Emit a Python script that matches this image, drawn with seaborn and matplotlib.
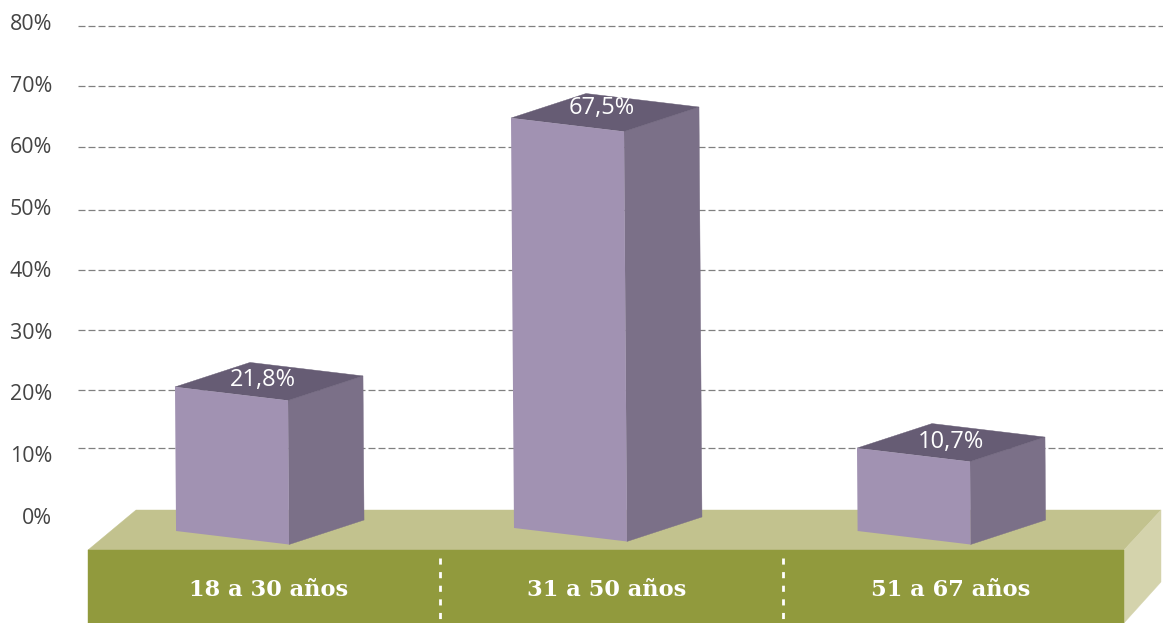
import numpy as np
import pandas as pd
import matplotlib
matplotlib.use("Agg")
import matplotlib.pyplot as plt
from matplotlib.patches import Polygon
from matplotlib.transforms import Affine2D
import seaborn as sns

# ---- data ----
categories = ["18 a 30 años", "31 a 50 años", "51 a 67 años"]
value_labels = ["21,8%", "67,5%", "10,7%"]
bar_tops = [20.9, 64.45, 11.0]        # drawn height of the front-left corner
bar_bases = [-2.43, -1.94, -2.43]     # drawn foot of the front-left corner
bar_centers = [231.5, 567.5, 913.5]
grid_levels = [79.4, 69.7, 59.75, 49.6, 39.85, 30.1, 20.4, 11.0]
tick_values = [0, 10, 20, 30, 40, 50, 60, 70, 80]
tick_labels = [f"{v}%" for v in tick_values]

# ---- layout (px) ----
W, H = 1163, 623
PX_PER_UNIT = 6.175
ZERO_PX = 516
def v(py):
    return (ZERO_PX - py) / PX_PER_UNIT

FRONT = "#A192B2"
SIDE = "#7B7088"
TOP = "#665C74"
PLAT_TOP = "#C2C28E"
PLAT_FRONT = "#919A3D"
PLAT_SIDE = "#D4D3AC"

sns.set_theme(style="white")
plt.rcParams["font.family"] = ["Open Sans", "DejaVu Sans"]

fig = plt.figure(figsize=(W / 100, H / 100), dpi=100, facecolor="white")
ax = fig.add_axes([78 / W, 0, 1 - 78 / W, 1])

df = pd.DataFrame({"pos": bar_centers, "top": bar_tops})
sns.barplot(data=df, x="pos", y="top", native_scale=True, width=113 / 336,
            color=FRONT, saturation=1, ax=ax, zorder=4, errorbar=None)

ax.set_xlim(78, W)
ax.set_ylim(v(H), v(0))
for s in ax.spines.values():
    s.set_visible(False)
ax.set_xlabel("")
ax.set_ylabel("")
ax.set_xticks([])
ax.set_yticks(tick_values)
ax.set_yticklabels(tick_labels)
ax.tick_params(axis="y", length=0, pad=18.7, labelsize=15.4, labelcolor="#444444")
ax.grid(False)
ax.patch.set_alpha(0)

# gridlines
for g in grid_levels:
    ax.axhline(g, color="#808080", lw=0.9, ls=(0, (5.6, 2.4)), zorder=1)

# platform
def poly(pts, color, z):
    ax.add_patch(Polygon([(x, v(y)) for x, y in pts], closed=True, facecolor=color,
                         edgecolor=color, lw=0.3, zorder=z, clip_on=True))

poly([(88, 550), (136, 510), (1161, 510), (1124, 550)], PLAT_TOP, 2)
poly([(1124, 550), (1161, 510), (1161, 582), (1124, 623)], PLAT_SIDE, 2)
poly([(88, 550), (1124, 550), (1124, 623), (88, 623)], PLAT_FRONT, 2)

# separators
for x in (440, 783):
    ax.plot([x, x], [v(558), v(620)], color="white", lw=2.0, ls=(0, (2.2, 2.7)), zorder=3)

# category labels
for x, lab in zip((269, 607, 951), categories):
    ax.text(x, v(590), lab, ha="center", va="center", color="white", fontsize=16.2,
            fontweight="bold", family=["DejaVu Serif"], zorder=6)

# 3D bars: shear seaborn's rectangles and add side/top faces
K = (13.5 / PX_PER_UNIT) / 113
S = 0.045
DX, DY = 75, 24.5 / PX_PER_UNIT
bars = list(ax.patches)[:3]
label_px = [(263, 380), (602, 108), (951, 442)]
for patch, top, base, lab, (lx, ly) in zip(bars, bar_tops, bar_bases, value_labels, label_px):
    x0 = patch.get_x()
    w = patch.get_width()
    patch.set_bounds(x0, base, w, top - base)
    skew = Affine2D(np.array([[1, -S, S * top], [-K, 1, K * x0], [0, 0, 1]]))
    patch.set_transform(skew + ax.transData)
    patch.set_edgecolor("none")
    tl, tr, br, bl = skew.transform([[x0, top], [x0 + w, top], [x0 + w, base], [x0, base]])
    off = np.array([DX, DY])
    ax.add_patch(Polygon([tr, tr + off, br + off, br], closed=True, facecolor=SIDE,
                         edgecolor=SIDE, lw=0.3, zorder=3.9))
    ax.add_patch(Polygon([tl, tr, tr + off, tl + off], closed=True, facecolor=TOP,
                         edgecolor=TOP, lw=0.3, zorder=3.9))
    ax.text(lx, v(ly), lab, ha="center", va="center", color="white", fontsize=17, zorder=6)

fig.savefig("out.png", dpi=100, facecolor="white")
